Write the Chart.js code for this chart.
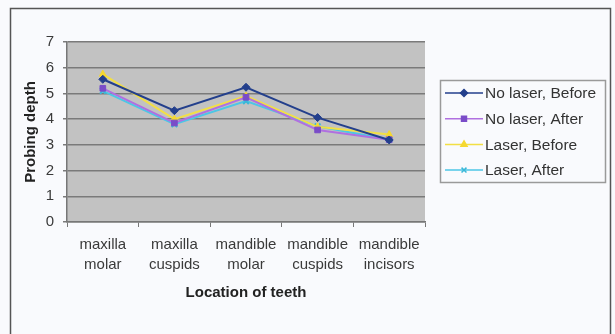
<!DOCTYPE html>
<html><head><meta charset="utf-8">
<script src="https://cdn.jsdelivr.net/npm/chart.js@4.4.1/dist/chart.umd.min.js"></script>
<style>
html,body{margin:0;padding:0;background:#f9fafd;}
#wrap{position:relative;width:615px;height:334px;}
</style></head><body>
<div id="wrap"><canvas id="c" width="615" height="334"></canvas></div>
<script>
const categories = [["maxilla","molar"],["maxilla","cuspids"],["mandible","molar"],["mandible","cuspids"],["mandible","incisors"]];
const seriesNames = ["No laser, Before","No laser, After","Laser, Before","Laser, After"];
const noLaserBefore = [5.55, 4.33, 5.24, 4.06, 3.19];
const noLaserAfter  = [5.20, 3.85, 4.85, 3.58, 3.20];
const laserBefore   = [5.75, 4.00, 4.90, 3.70, 3.40];
const laserAfter    = [5.10, 3.80, 4.70, 3.72, 3.20];
const yTicks = [0,1,2,3,4,5,6,7];

const colors = ["#233f8c","#b070e0","#f2df45","#4cc6e6"];
const pointColors = ["#233f8c","#7a4cc8","#f5d830","#3ab8d8"];
const styles = ["rectRot","rect","triangle","crossRot"];
const values = [noLaserBefore,noLaserAfter,laserBefore,laserAfter];

const FONT = "'Liberation Sans', Arial, sans-serif";

const bgPlugin = {
  id:'bg',
  beforeDraw(chart){
    const {ctx, chartArea:a} = chart;
    ctx.save();
    ctx.fillStyle = '#f9fafd';
    ctx.fillRect(0,0,chart.width,chart.height);
    ctx.strokeStyle = '#555';
    ctx.lineWidth = 1.5;
    ctx.strokeRect(10.5,8.5,600,340);
    ctx.fillStyle = '#c2c2c2';
    ctx.fillRect(a.left,a.top,a.right-a.left,a.bottom-a.top);
    ctx.restore();
  },
  afterDraw(chart){
    const ctx = chart.ctx;
    ctx.save();
    ctx.strokeStyle = '#9a9a9a';
    ctx.lineWidth = 1.5;
    ctx.strokeRect(440.5,80.5,165,102);
    ctx.font = "15.5px " + FONT;
    ctx.textBaseline = 'middle';
    ctx.textAlign = 'left';
    seriesNames.forEach((name,i)=>{
      const y = 93 + i*25.7;
      ctx.strokeStyle = colors[i];
      ctx.lineWidth = 1.5;
      ctx.beginPath(); ctx.moveTo(445,y); ctx.lineTo(483,y); ctx.stroke();
      ctx.fillStyle = pointColors[i];
      ctx.strokeStyle = pointColors[i];
      Chart.helpers.drawPoint(ctx,{pointStyle:styles[i],radius:3.5,borderWidth:styles[i]==='crossRot'?2:1,rotation:0},464,y);
      ctx.fillStyle = '#333';
      ctx.fillText(name,485,y+1);
    });
    ctx.restore();
  }
};

new Chart(document.getElementById('c'),{
  type:'line',
  data:{
    labels:categories,
    datasets: seriesNames.map((n,i)=>({
      label:n,
      data:values[i],
      borderColor:colors[i],
      backgroundColor:pointColors[i],
      pointBackgroundColor:pointColors[i],
      pointBorderColor:pointColors[i],
      pointStyle:styles[i],
      pointRadius:4,
      pointBorderWidth:styles[i]==='crossRot'?2:1,
      borderWidth:2,
      tension:0,
      order:i
    }))
  },
  options:{
    responsive:false,
    animation:false,
    devicePixelRatio:1,
    layout:{padding:{left:10,top:42,right:190,bottom:32}},
    plugins:{legend:{display:false},tooltip:{enabled:false}},
    scales:{
      x:{
        offset:true,
        grid:{offset:true,drawOnChartArea:false,drawTicks:true,tickLength:5,color:'#777'},
        border:{color:'#777',width:1.5},
        ticks:{font:{family:FONT,size:15,lineHeight:1.33},color:'#3a3a3a',padding:8,maxRotation:0,autoSkip:false},
        title:{display:true,text:'Location of teeth',font:{family:FONT,size:15,weight:'bold'},color:'#222',padding:{top:0,bottom:0}},
        afterFit(s){s.height=80;}
      },
      y:{
        min:0,max:7,
        afterBuildTicks(s){s.ticks = yTicks.map(v=>({value:v}));},
        grid:{color:'#7a7a7a',lineWidth:1.5,tickLength:4},
        border:{color:'#777',width:1.5},
        ticks:{font:{family:FONT,size:15},color:'#3a3a3a',padding:9},
        title:{display:true,text:'Probing depth',font:{family:FONT,size:15,weight:'bold'},color:'#222',padding:{top:12,bottom:0}},
        afterFit(s){s.width=57;}
      }
    }
  },
  plugins:[bgPlugin]
});
</script>
</body></html>
